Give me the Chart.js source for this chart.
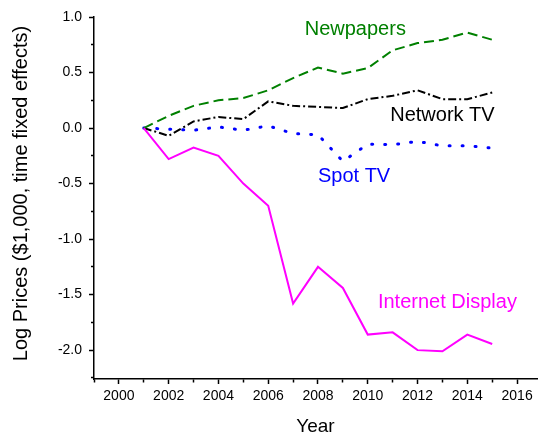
<!DOCTYPE html>
<html>
<head>
<meta charset="utf-8">
<script src="https://cdn.jsdelivr.net/npm/chart.js@4/dist/chart.umd.min.js"></script>
<style>
  html, body { margin: 0; padding: 0; background: #fff; }
  #wrap { width: 538px; height: 439px; position: relative; }
</style>
</head>
<body>
<div id="wrap"><canvas id="myChart"></canvas></div>
<script>
// Years and log price series
const years = [2001, 2002, 2003, 2004, 2005, 2006, 2007, 2008, 2009, 2010, 2011, 2012, 2013, 2014, 2015];
const newspapers = [0, 0.11, 0.20, 0.25, 0.27, 0.34, 0.45, 0.545, 0.49, 0.54, 0.70, 0.765, 0.795, 0.86, 0.795];
const networkTV = [0, -0.07, 0.06, 0.10, 0.08, 0.24, 0.20, 0.19, 0.18, 0.26, 0.29, 0.34, 0.26, 0.26, 0.32];
const spotTV = [0, -0.01, -0.02, 0.01, -0.02, 0.02, -0.05, -0.06, -0.30, -0.145, -0.15, -0.12, -0.16, -0.16, -0.18];
const internetDisplay = [0, -0.28, -0.175, -0.25, -0.50, -0.70, -1.58, -1.25, -1.44, -1.86, -1.84, -2.00, -2.01, -1.86, -1.945];

// Series labels drawn inside the plot (data coordinates)
const seriesLabels = [
    { text: 'Newpapers', x: 2009.5, y: 0.89, color: '#008000' },
    { text: 'Network TV', x: 2013.0, y: 0.113, color: '#000000' },
    { text: 'Spot TV', x: 2009.45, y: -0.432, color: '#0000ff' },
    { text: 'Internet Display', x: 2013.2, y: -1.567, color: '#ff00ff' }
];

const FONT = "'Liberation Sans', Arial, sans-serif";

function toPoints(values) {
    return years.map((yr, i) => ({ x: yr, y: values[i] }));
}

function isMajorY(v) {
    return Math.abs(v * 2 - Math.round(v * 2)) < 1e-6;
}

// Text labels next to each line + rotated y title
const labelPlugin = {
    id: 'labels',
    afterDraw(chart) {
        const ctx = chart.ctx;
        const xs = chart.scales.x, ys = chart.scales.y;
        ctx.save();
        ctx.font = '20px ' + FONT;
        ctx.textAlign = 'center';
        ctx.textBaseline = 'middle';
        seriesLabels.forEach(l => {
            ctx.fillStyle = l.color;
            ctx.fillText(l.text, xs.getPixelForValue(l.x), ys.getPixelForValue(l.y));
        });
        // y axis title
        ctx.fillStyle = '#000';
        ctx.textBaseline = 'alphabetic';
        ctx.translate(27, 193.5);
        ctx.rotate(-Math.PI / 2);
        ctx.fillText('Log Prices ($1,000, time fixed effects)', 0, 0);
        ctx.restore();
    }
};

const ctx = document.getElementById('myChart').getContext('2d');

const myChart = new Chart(ctx, {
    type: 'line',
    data: {
        datasets: [
            {
                label: 'Internet Display',
                data: toPoints(internetDisplay),
                borderColor: '#ff00ff',
                borderWidth: 2,
                pointRadius: 0,
                tension: 0
            },
            {
                label: 'Newpapers',
                data: toPoints(newspapers),
                borderColor: '#008000',
                borderWidth: 2,
                borderDash: [10, 5],
                pointRadius: 0,
                tension: 0
            },
            {
                label: 'Network TV',
                data: toPoints(networkTV),
                borderColor: '#000000',
                borderWidth: 2,
                borderDash: [8, 3, 2, 3],
                pointRadius: 0,
                tension: 0
            },
            {
                label: 'Spot TV',
                data: toPoints(spotTV),
                borderColor: '#0000ff',
                borderWidth: 3,
                borderDash: [1, 12],
                borderCapStyle: 'round',
                pointRadius: 0,
                tension: 0
            }
        ]
    },
    options: {
        responsive: true,
        maintainAspectRatio: false,
        animation: false,
        layout: {
            padding: { top: 17, right: 1, bottom: 0, left: 0 }
        },
        plugins: {
            legend: { display: false },
            tooltip: { enabled: false }
        },
        scales: {
            x: {
                type: 'linear',
                min: 1999,
                max: 2016.8,
                afterFit(scale) { scale.height = 60; },
                border: { color: '#000', width: 1.5 },
                grid: {
                    drawOnChartArea: false,
                    tickLength: 5,
                    tickColor: '#000',
                    tickWidth: 1.5,
                    tickBorderDash: c => (c.tick && c.tick.value % 2 !== 0) ? [3, 100] : []
                },
                ticks: {
                    stepSize: 1,
                    includeBounds: false,
                    autoSkip: false,
                    maxRotation: 0,
                    padding: 4,
                    color: '#000',
                    font: { family: FONT, size: 14 },
                    callback: v => (v % 2 === 0 ? String(v) : '')
                },
                title: {
                    display: true,
                    text: 'Year',
                    color: '#000',
                    font: { family: FONT, size: 19 },
                    padding: { top: 0, bottom: 1 }
                }
            },
            y: {
                min: -2.26,
                max: 1.0,
                afterFit(scale) { scale.width = 94; },
                border: { color: '#000', width: 1.5 },
                grid: {
                    drawOnChartArea: false,
                    tickLength: 5,
                    tickColor: '#000',
                    tickWidth: 1.5,
                    tickBorderDash: c => (c.tick && !isMajorY(c.tick.value)) ? [0, 2, 3, 100] : []
                },
                ticks: {
                    stepSize: 0.25,
                    includeBounds: false,
                    autoSkip: false,
                    padding: 7,
                    color: '#000',
                    font: { family: FONT, size: 14 },
                    callback: v => (isMajorY(v) ? v.toFixed(1) : '')
                }
            }
        }
    },
    plugins: [labelPlugin]
});
</script>
</body>
</html>
